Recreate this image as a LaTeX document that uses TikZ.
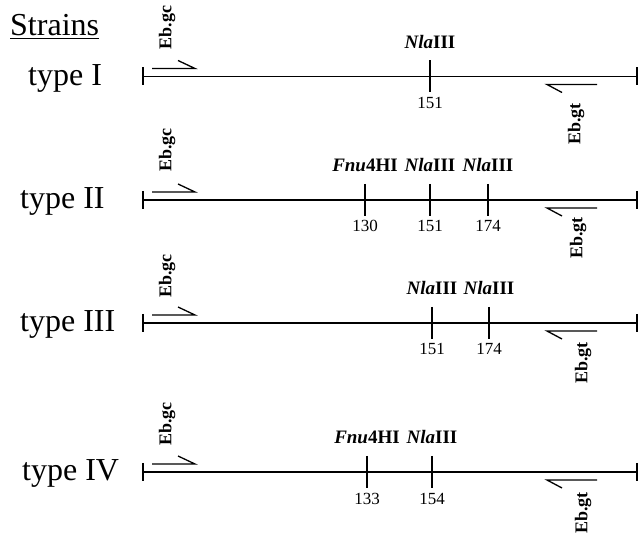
\documentclass[tikz,border=0pt]{standalone}
\usepackage{fontspec}
\setmainfont{Liberation Serif}
\newcommand\nlalab{\textbf{\textit{Nla}III}}
\newcommand\fnulab{\textbf{\textit{Fnu}4HI}}
\tikzset{
  dna/.style={line width=1.4pt},
  endbar/.style={line width=1.2pt},
  sitetick/.style={line width=1.3pt},
  primer/.style={line width=1.3pt},
  typelbl/.style={anchor=base west, inner sep=0pt, font=\fontsize{32}{36}\selectfont},
  sitelbl/.style={anchor=base, inner sep=0pt, font=\fontsize{19}{22}\selectfont},
  numlbl/.style={anchor=base, inner sep=0pt, font=\fontsize{17}{20}\selectfont},
  primerlbl/.style={rotate=90, inner sep=0pt, font=\fontsize{18}{20}\selectfont\bfseries},
}
\begin{document}
\begin{tikzpicture}[x=1pt,y=-1pt]
\useasboundingbox (0,0) rectangle (641,540);
\node[typelbl] (strains) at (10,36) {\underline{Strains}};
\foreach \r/\y/\t/\tx/\gx/\gy/\cy in {1/76.5/type I/28/576/124/27.5, 2/200/type II/20/578/238/150, 3/323/type III/20/583/363/276, 4/472/type IV/22/583/513/424} {
  \coordinate (L\r) at (143,\y);
  \coordinate (R\r) at (637,\y);
  \coordinate (Lt\r) at (143,\y-9);
  \coordinate (Lb\r) at (143,\y+9);
  \coordinate (Rt\r) at (637,\y-9);
  \coordinate (Rb\r) at (637,\y+9);
  \draw[dna] (L\r) -- (R\r);
  \draw[endbar] (Lt\r) -- (Lb\r);
  \draw[endbar] (Rt\r) -- (Rb\r);
  \node[typelbl] (T\r) at (\tx,\y+9) {\t};
  % forward primer
  \coordinate (fa\r) at (178,\y-16);
  \coordinate (fb\r) at (195,\y-8);
  \coordinate (fc\r) at (152,\y-8);
  \draw[primer] (fa\r) -- (fb\r) -- (fc\r);
  \node[primerlbl] (gc\r) at (167,\cy) {Eb.gc};
  % reverse primer
  \coordinate (ra\r) at (562,\y+16);
  \coordinate (rb\r) at (547,\y+8);
  \coordinate (rc\r) at (597,\y+8);
  \draw[primer] (ra\r) -- (rb\r) -- (rc\r);
  \node[primerlbl] (gt\r) at (\gx,\gy) {Eb.gt};
}
\foreach \s/\y/\x/\lab/\num in {a/76.5/430/\nlalab/151, b/200/365/\fnulab/130, c/200/430/\nlalab/151, d/200/488/\nlalab/174, e/323/432/\nlalab/151, f/323/489/\nlalab/174, g/472/367/\fnulab/133, h/472/432/\nlalab/154} {
  \coordinate (st\s) at (\x,\y-16);
  \coordinate (sb\s) at (\x,\y+16);
  \draw[sitetick] (st\s) -- (sb\s);
  \node[sitelbl] (sl\s) at (\x,\y-28) {\lab};
  \node[numlbl] (sn\s) at (\x,\y+32) {\num};
}
\end{tikzpicture}
\end{document}
